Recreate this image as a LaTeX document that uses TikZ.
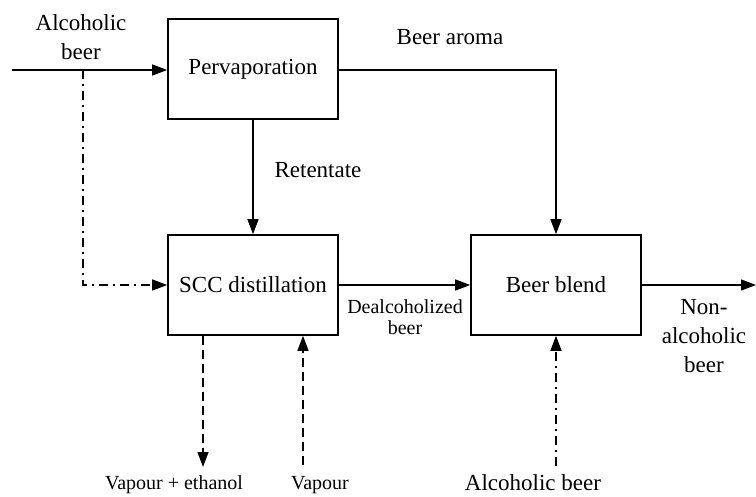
\documentclass[tikz,border=0pt]{standalone}
\usepackage{fontspec}
\setmainfont{Liberation Serif}
\newfontfamily\tnr{Liberation Serif}
\usetikzlibrary{arrows.meta}
\begin{document}
\begin{tikzpicture}[x=1pt,y=-1pt,
  procbox/.style={draw, line width=1.6pt, minimum width=170pt, minimum height=100pt, inner sep=0pt, font=\tnr\fontsize{23}{27}\selectfont},
  flow/.style={line width=1.3pt, -{Triangle[length=15pt,width=11pt]}},
  lbl/.style={font=\tnr\fontsize{23}{29}\selectfont, align=center, inner sep=0pt},
  smalllbl/.style={font=\tnr\fontsize{20}{21}\selectfont, align=center, inner sep=0pt},
  dashdot/.style={dash pattern=on 9pt off 5pt on 2pt off 5pt},
  dashedl/.style={dash pattern=on 9pt off 5pt}]
\useasboundingbox (0,0) rectangle (756,497);
\node[procbox] (perv) at (253,69) {Pervaporation};
\node[procbox] (scc) at (253,285) {SCC distillation};
\node[procbox] (blend) at (556,285) {Beer blend};
\coordinate (in) at (12,70);
\coordinate (split) at (83,70);
\coordinate (out) at (756,285);
\coordinate (ve) at (203,467);
\coordinate (va) at (303,465);
\coordinate (ab) at (556,466);
% main input
\draw[flow] (in) -- (perv.west |- in);
% dash-dot bypass
\draw[flow, dashdot] (split) |- (scc.west);
% aroma
\draw[flow] (perv.east |- in) -| (blend.north);
% retentate
\draw[flow] (perv.south) -- (scc.north);
% dealcoholized
\draw[flow] (scc.east) -- (blend.west);
% output
\draw[flow] (blend.east) -- (out);
% vapour + ethanol
\draw[flow, dashedl] (scc.south -| ve) -- (ve);
\draw[flow, dashedl] (va) -- (scc.south -| va);
\draw[flow, dashdot] (ab) -- (blend.south);
% labels
\node[lbl] (l1) at (81,37) {Alcoholic\\beer};
\node[lbl] (l2) at (450,37) {Beer aroma};
\node[lbl] (l3) at (318,170) {Retentate};
\node[smalllbl] (l4) at (405,317) {Dealcoholized\\beer};
\node[lbl] (l5) at (704,336) {Non-\\alcoholic\\beer};
\node[smalllbl] (l6) at (174,485) {Vapour + ethanol};
\node[smalllbl] (l7) at (320,485) {Vapour};
\node[lbl] (l8) at (533,483) {Alcoholic beer};
\end{tikzpicture}
\end{document}
